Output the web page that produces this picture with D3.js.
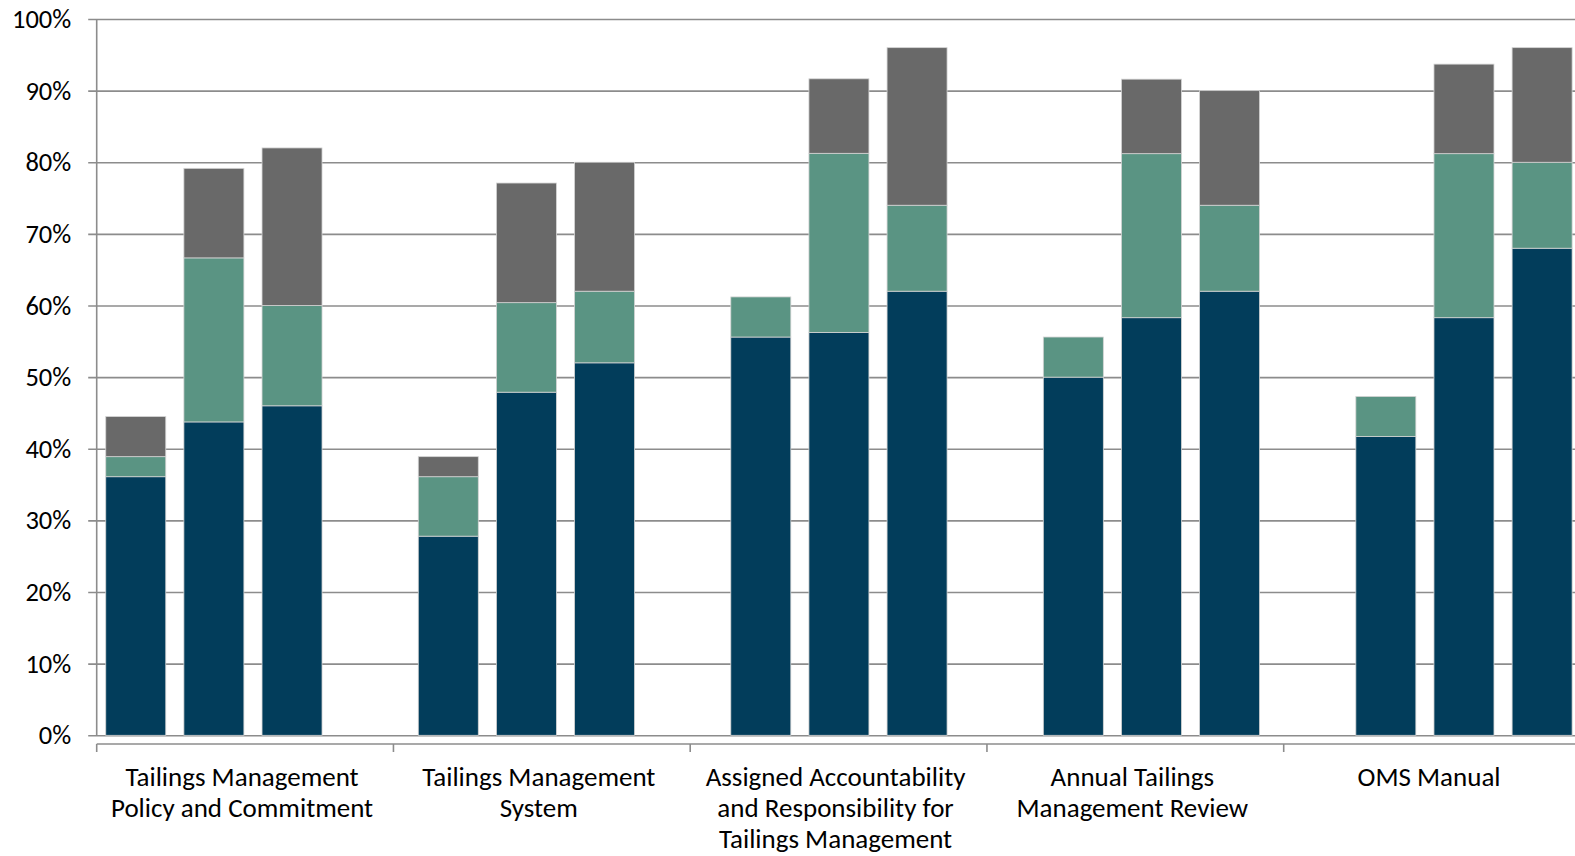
<!DOCTYPE html>
<html>
<head>
<meta charset="utf-8">
<script src="https://cdn.jsdelivr.net/npm/d3@7"></script>
<style>
  html, body { margin: 0; padding: 0; background: #fff; overflow: hidden; }
  svg { display: block; }
  text { font-family: Carlito, Lato, "Open Sans", sans-serif; fill: #000; }
</style>
</head>
<body>
<svg id="chart" width="1575" height="856"></svg>
<script>
// ---- data ----
const categories = [
  ["Tailings Management", "Policy and Commitment"],
  ["Tailings Management", "System"],
  ["Assigned Accountability", "and Responsibility for", "Tailings Management"],
  ["Annual Tailings", "Management Review"],
  ["OMS Manual"]
];
const barsPerGroup = 3;
const slotsPerGroup = 4;
// values in percent, 3 bars per category (in order)
const seriesDark  = [36.1, 43.75, 46, 27.8, 47.9, 52, 55.6, 56.25, 62, 50, 58.3, 62, 41.7, 58.3, 68];
const seriesGreen = [2.8, 22.9, 14, 8.3, 12.5, 10, 5.6, 25, 12, 5.6, 22.9, 12, 5.6, 22.9, 12];
const seriesGrey  = [5.6, 12.5, 22, 2.8, 16.7, 18, 0, 10.4, 22, 0, 10.4, 16, 0, 12.5, 16];
const yTicks = [0, 0.1, 0.2, 0.3, 0.4, 0.5, 0.6, 0.7, 0.8, 0.9, 1.0];
const colors = ["#023d5b", "#5a9483", "#696969"];

// ---- layout ----
const W = 1575, H = 856;
const x0 = 96.7, yBottom = 735.3, yTop = 19;
const slotStep = 78.13, groupStep = 296.75;
const svg = d3.select("#chart");

const slotKeys = [];
categories.forEach((c, g) => { for (let k = 0; k < slotsPerGroup; k++) slotKeys.push(g + "-" + k); });
const x = d3.scaleBand().domain(slotKeys)
  .range([x0, x0 + slotKeys.length * slotStep])
  .paddingInner(0.232).paddingOuter(0.116);
const xg = d3.scaleBand().domain(d3.range(categories.length))
  .range([x0, x0 + categories.length * groupStep]).padding(0);
const y = d3.scaleLinear().domain([0, 1]).range([yBottom, yTop]);

// gridlines + y axis
const yAxis = d3.axisLeft(y).tickValues(yTicks).tickFormat(d3.format(".0%"))
  .tickSize(-(W - x0 + 10)).tickPadding(25.5);
const ga = svg.append("g").attr("transform", `translate(${x0},0)`).call(yAxis);
ga.select(".domain").remove();
ga.selectAll(".tick line").attr("x1", -8.5).attr("stroke", "#8c8c8c").attr("stroke-width", 1.6);
ga.selectAll(".tick text").attr("font-size", 26.5).attr("fill", "#000")
  .style("font-family", "Carlito, Lato, 'Open Sans', sans-serif");
svg.append("line").attr("x1", x0).attr("x2", x0).attr("y1", y(1)).attr("y2", y(0))
  .attr("stroke", "#8c8c8c").attr("stroke-width", 1.6);

// stacked bars
const rows = seriesDark.map((d, i) => {
  const g = Math.floor(i / barsPerGroup), k = i % barsPerGroup;
  return { key: g + "-" + k, dark: seriesDark[i] / 100, green: seriesGreen[i] / 100, grey: seriesGrey[i] / 100 };
});
const stack = d3.stack().keys(["dark", "green", "grey"]);
const layers = stack(rows);
svg.append("g").selectAll("g").data(layers).join("g")
  .attr("fill", (d, i) => colors[i])
  .selectAll("rect").data(d => d.filter(s => s[1] - s[0] > 0)).join("rect")
  .attr("x", d => x(d.data.key))
  .attr("width", x.bandwidth())
  .attr("y", d => y(d[1]))
  .attr("height", d => y(d[0]) - y(d[1]))
  .attr("stroke", "#d4d4d4").attr("stroke-width", 0.8);

// category axis
const axY = 744;
svg.append("line").attr("x1", x0).attr("x2", W).attr("y1", axY).attr("y2", axY)
  .attr("stroke", "#8c8c8c").attr("stroke-width", 1.6);
svg.append("g").selectAll("line").data(xg.domain()).join("line")
  .attr("x1", d => xg(d)).attr("x2", d => xg(d))
  .attr("y1", axY).attr("y2", axY + 8)
  .attr("stroke", "#8c8c8c").attr("stroke-width", 1.6);
const labels = svg.append("g").selectAll("text").data(categories).join("text")
  .attr("text-anchor", "middle")
  .attr("font-size", 27)
  .attr("x", (d, i) => xg(i) + xg.bandwidth() / 2 - 3)
  .attr("y", 785.5);
labels.selectAll("tspan").data(d => d).join("tspan")
  .attr("x", function () { return d3.select(this.parentNode).attr("x"); })
  .attr("dy", (d, i) => i === 0 ? 0 : 31.4)
  .text(d => d);
</script>
</body>
</html>
